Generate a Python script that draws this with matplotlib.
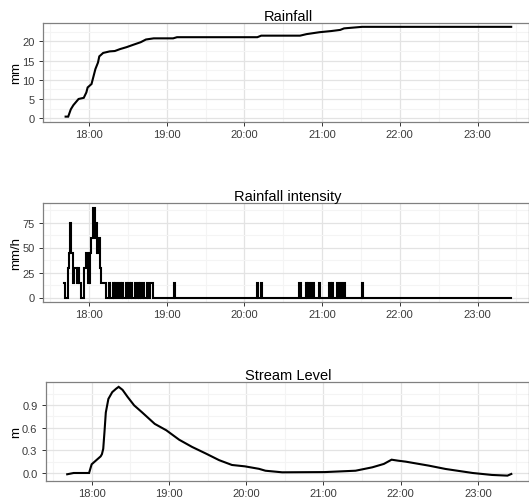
import numpy as np
import matplotlib
matplotlib.use("Agg")
import matplotlib.pyplot as plt
from matplotlib.ticker import MultipleLocator, FixedLocator

plt.rcParams['font.family'] = ['Liberation Sans', 'DejaVu Sans']


def hours(t):
    h, m = t.split(':')
    return int(h) + int(m) / 60.0


# ---------------------------------------------------------
# Data
# ---------------------------------------------------------
# cumulative rainfall (mm)
rain_time = ["17:42", "17:44", "17:46", "17:48", "17:52", "17:56", "17:58",
             "17:59", "18:02", "18:05", "18:07", "18:08", "18:11", "18:16",
             "18:20", "18:24", "18:29", "18:34", "18:40", "18:44", "18:50",
             "19:05", "19:08", "20:10", "20:13", "20:43", "20:48", "20:58",
             "21:07", "21:14", "21:17", "21:31", "23:26"]
rain_mm = [0.4, 0.4, 2.3, 3.4, 5.0, 5.3, 6.7,
           8.0, 8.9, 12.8, 14.5, 16.1, 17.0, 17.4,
           17.5, 18.0, 18.5, 19.1, 19.8, 20.5, 20.8,
           20.8, 21.1, 21.1, 21.5, 21.5, 21.9, 22.4,
           22.7, 23.0, 23.4, 23.8, 23.8]

# rainfall intensity (mm/h), one value per minute
int_start = "17:41"
int_end = "23:26"
burst_values = [15, 0, 0, 30, 45, 75, 45, 15, 30, 30, 15, 30, 15, 0, 0, 0,
                30, 45, 45, 15, 45, 60, 60, 90, 60, 75, 45, 60, 30, 15, 15]
tip_times = ["18:12", "18:13", "18:16", "18:19", "18:21", "18:24", "18:26",
             "18:29", "18:31", "18:33", "18:36", "18:38", "18:40", "18:42",
             "18:45", "18:48", "18:49", "19:06", "20:10", "20:13", "20:43",
             "20:48", "20:50", "20:53", "20:58", "21:06", "21:08", "21:12",
             "21:14", "21:17", "21:31"]
tip_value = 15

# stream level (m)
level_time = ["17:41", "17:46", "17:58", "18:00", "18:03", "18:07", "18:08",
              "18:09", "18:10", "18:11", "18:13", "18:16", "18:19", "18:21",
              "18:24", "18:28", "18:33", "18:39", "18:49", "18:58", "19:08",
              "19:18", "19:29", "19:39", "19:49", "19:59", "20:10", "20:15",
              "20:28", "21:01", "21:25", "21:38", "21:47", "21:53", "21:58",
              "22:04", "22:22", "22:35", "22:56", "23:11", "23:23", "23:26"]
level_m = [-0.017, 0.0, 0.0, 0.115, 0.16, 0.22, 0.25,
           0.32, 0.55, 0.80, 0.98, 1.07, 1.115, 1.14,
           1.10, 1.005, 0.895, 0.805, 0.65, 0.565, 0.44,
           0.345, 0.255, 0.17, 0.106, 0.088, 0.055, 0.03,
           0.009, 0.012, 0.03, 0.075, 0.12, 0.176, 0.163,
           0.15, 0.097, 0.053, 0.0, -0.026, -0.035, -0.013]

x_ticks = ["18:00", "19:00", "20:00", "21:00", "22:00", "23:00"]
rain_yticks = [0, 5, 10, 15, 20]
int_yticks = [0, 25, 50, 75]
level_yticks = [0.0, 0.3, 0.6, 0.9]

# ---------------------------------------------------------
# Build series
# ---------------------------------------------------------
rain_x = [hours(t) for t in rain_time]
level_x = [hours(t) for t in level_time]

m0 = int(round(hours(int_start) * 60))
m1 = int(round(hours(int_end) * 60))
minutes = np.arange(m0, m1 + 1)
intensity = np.zeros(len(minutes))
intensity[:len(burst_values)] = burst_values
for t in tip_times:
    intensity[int(round(hours(t) * 60)) - m0] = tip_value
int_x = minutes / 60.0

# ---------------------------------------------------------
# Figure / panels (pixel layout of the original)
# ---------------------------------------------------------
W, H = 529, 502
fig = plt.figure(figsize=(W / 100, H / 100), dpi=100)


def px_axes(left, top, bottom, right=528.5):
    return fig.add_axes([left / W, 1 - bottom / H, (right - left) / W, (bottom - top) / H])


ax1 = px_axes(43, 24, 123)
ax2 = px_axes(43, 204, 303)
ax3 = px_axes(46, 383, 482)

line_kw = dict(color='black', lw=1.5, solid_joinstyle='miter')
ax1.plot(rain_x, rain_mm, **line_kw)
ax2.plot(int_x, intensity, drawstyle='steps-mid', **line_kw)
ax3.plot(level_x, level_m, **line_kw)

panels = [
    (ax1, "Rainfall", "mm", (-1.0, 24.8), rain_yticks, 2.5, "{:.0f}"),
    (ax2, "Rainfall intensity", "mm/h", (-4.5, 94.5), int_yticks, 12.5, "{:.0f}"),
    (ax3, "Stream Level", "m", (-0.106, 1.204), level_yticks, 0.15, "{:.1f}"),
]

title_x_px = 288
for ax, title, ylabel, ylim, yticks, minor, fmt in panels:
    ax.set_xlim(17.409, 23.656)
    ax.set_ylim(*ylim)
    ax.xaxis.set_major_locator(FixedLocator([hours(t) for t in x_ticks]))
    ax.set_xticklabels(x_ticks)
    ax.xaxis.set_minor_locator(MultipleLocator(0.5))
    ax.set_yticks(yticks)
    ax.set_yticklabels([fmt.format(v) for v in yticks])
    ax.yaxis.set_minor_locator(MultipleLocator(minor))

    ax.grid(which='major', color='#E3E3E3', lw=0.9)
    ax.grid(which='minor', color='#F4F4F4', lw=0.8)
    ax.set_axisbelow(True)
    for s in ax.spines.values():
        s.set_color('#808080')
        s.set_linewidth(0.9)

    ax.tick_params(which='major', length=3.2, width=0.7, color='#333333',
                   labelsize=8, labelcolor='#3C3C3C')
    ax.tick_params(axis='y', pad=3.0)
    ax.tick_params(axis='x', pad=1.5)
    ax.tick_params(which='minor', length=0)

    # title centred on the plot area of the original
    bb = ax.get_position()
    tx = (title_x_px / W - bb.x0) / bb.width
    ax.set_title(title, fontsize=10.5, x=tx, pad=1.0)

    ax.set_ylabel(ylabel, fontsize=9.5)
    ax.yaxis.label.set_va('center')
    ax.yaxis.set_label_coords((16 - bb.x0 * W) / (bb.width * W), 0.5)

plt.savefig("out.png", dpi=100)
plt.close()
